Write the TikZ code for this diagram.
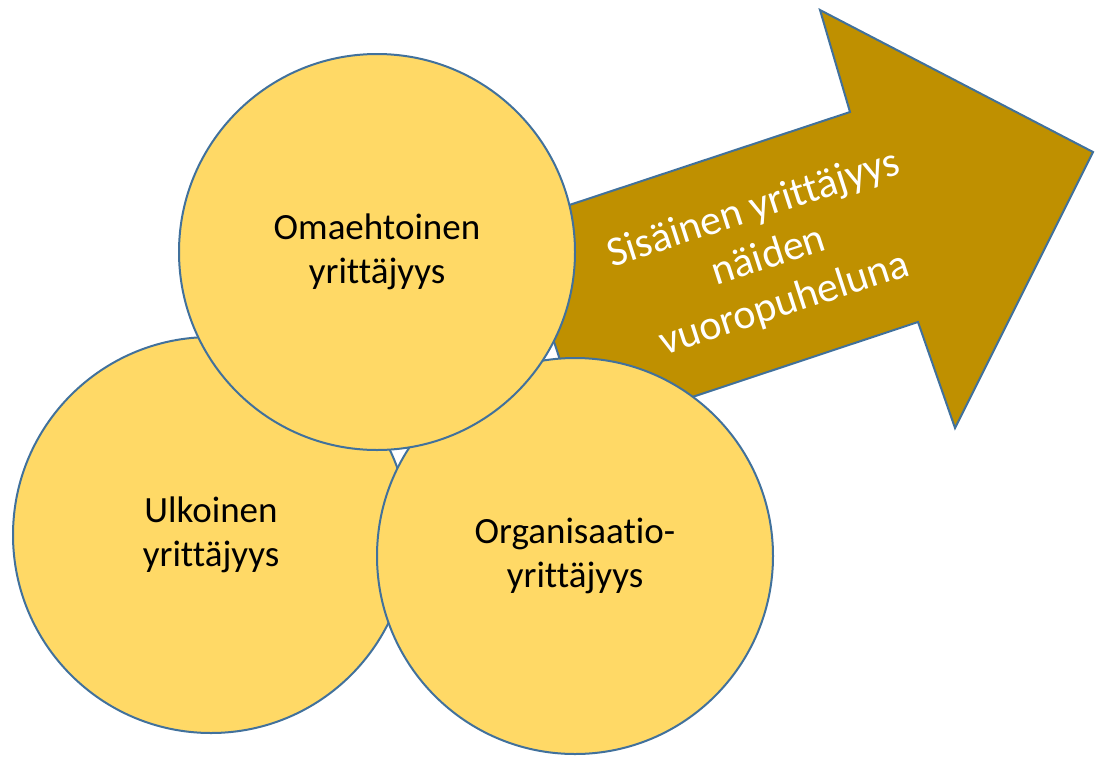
\documentclass[tikz,border=0pt]{standalone}
\usepackage{fontspec}
\setmainfont{Carlito}[Ligatures=NoCommon]
\usetikzlibrary{shapes.geometric}
\definecolor{rand}{RGB}{65,113,156}
\definecolor{kreis}{RGB}{255,217,102}
\definecolor{pfeilgold}{RGB}{191,144,0}

\begin{document}
\begin{tikzpicture}[x=1pt, y=-1pt, rand]

	\tikzset{kreisknoten/.style={circle, draw=rand, fill=kreis, line width=2pt, minimum size=396pt, inner sep=0pt, align=center, text=black, font=\fontsize{37}{44}\selectfont}}
	\def\Pfeil{(515,223) -- (850,112) -- (820,10) -- (1093,152) -- (955,428) -- (918,322) -- (584,433) -- cycle}

	\useasboundingbox (0,0) rectangle (1097,758);

	% der Pfeil liegt ganz unten
	\draw[fill=pfeilgold, line width=2pt] \Pfeil;
	\node[text=white, rotate=18, align=center, font=\fontsize{42}{50}\selectfont] (dialog) at (769,257) {Sisäinen yrittäjyys\\näiden\\vuoropuheluna};

	\node[kreisknoten] (ulkoinen) at (211,535) {Ulkoinen\\yrittäjyys};
	\node[kreisknoten] (organisaatio) at (575,556) {Organisaatio-\\yrittäjyys};
	\node[kreisknoten] (omaehtoinen) at (377,252) {Omaehtoinen\\yrittäjyys};

	% \draw[red] (dialog.center) circle (3);

\end{tikzpicture}
\end{document}
